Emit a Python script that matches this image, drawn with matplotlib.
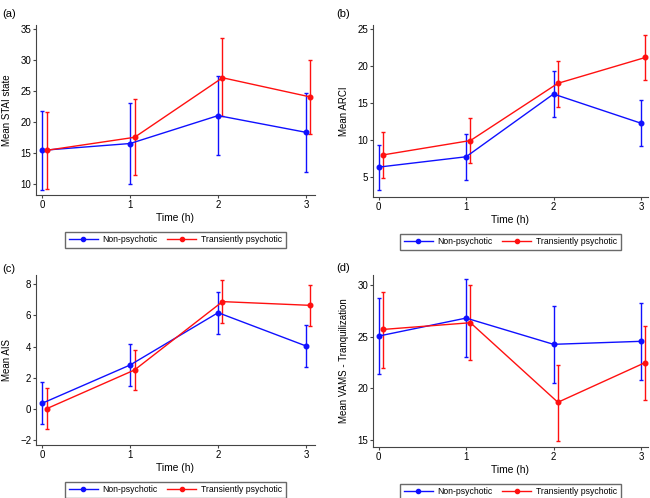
import numpy as np
import matplotlib
matplotlib.use("Agg")
from matplotlib import pyplot as plt
from matplotlib.lines import Line2D

plt.rcParams['font.family'] = ['Liberation Sans', 'DejaVu Sans']

# 時間 (h)
times = [0, 1, 2, 3]
offset = 0.05  # 赤系列のずらし

# (a) STAI state
a_non_mean = [15.4, 16.5, 21.0, 18.3]
a_non_lo = [9.0, 10.0, 14.7, 11.9]
a_non_hi = [21.7, 23.0, 27.4, 24.7]
a_tp_mean = [15.4, 17.5, 27.1, 24.0]
a_tp_lo = [9.1, 11.5, 20.9, 18.0]
a_tp_hi = [21.6, 23.6, 33.5, 30.0]

# (b) ARCI
b_non_mean = [6.35, 7.75, 16.25, 12.3]
b_non_lo = [3.2, 4.6, 13.1, 9.25]
b_non_hi = [9.4, 10.9, 19.35, 15.5]
b_tp_mean = [8.0, 9.95, 17.7, 21.2]
b_tp_lo = [4.9, 6.95, 14.5, 18.2]
b_tp_hi = [11.15, 12.95, 20.75, 24.2]

# (c) AIS
c_non_mean = [0.36, 2.82, 6.18, 4.04]
c_non_lo = [-1.0, 1.47, 4.79, 2.67]
c_non_hi = [1.7, 4.17, 7.49, 5.37]
c_tp_mean = [0.01, 2.5, 6.89, 6.65]
c_tp_lo = [-1.31, 1.19, 5.52, 5.35]
c_tp_hi = [1.36, 3.78, 8.3, 7.96]

# (d) VAMS - Tranquilization
d_non_mean = [25.06, 26.8, 24.26, 24.55]
d_non_lo = [21.4, 23.06, 20.55, 20.8]
d_non_hi = [28.7, 30.55, 27.94, 28.3]
d_tp_mean = [25.7, 26.35, 18.65, 22.5]
d_tp_lo = [22.0, 22.7, 14.9, 18.9]
d_tp_hi = [29.3, 30.0, 22.3, 26.0]

series_names = ['Non-psychotic', 'Transiently psychotic']
colors = ['#1010ff', '#ff1010']

panels = [
    ('(a)', 'Mean STAI state', (a_non_mean, a_non_lo, a_non_hi), (a_tp_mean, a_tp_lo, a_tp_hi),
     [10, 15, 20, 25, 30, 35], (8.2, 35.6), (-0.07, 3.1)),
    ('(b)', 'Mean ARCI', (b_non_mean, b_non_lo, b_non_hi), (b_tp_mean, b_tp_lo, b_tp_hi),
     [5, 10, 15, 20, 25], (2.3, 25.6), (-0.065, 3.08)),
    ('(c)', 'Mean AIS', (c_non_mean, c_non_lo, c_non_hi), (c_tp_mean, c_tp_lo, c_tp_hi),
     [-2, 0, 2, 4, 6, 8], (-2.32, 8.6), (-0.07, 3.1)),
    ('(d)', 'Mean VAMS - Tranquilization', (d_non_mean, d_non_lo, d_non_hi), (d_tp_mean, d_tp_lo, d_tp_hi),
     [15, 20, 25, 30], (14.35, 30.97), (-0.065, 3.08)),
]

# 各パネルの位置 (図の比率)
positions = [
    [0.0554, 0.6084, 0.429, 0.3414],
    [0.5738, 0.6044, 0.423, 0.3454],
    [0.0554, 0.1064, 0.429, 0.3414],
    [0.5738, 0.1030, 0.423, 0.3448],
]
label_pos = [(0.004, 0.972), (0.518, 0.972), (0.004, 0.46), (0.518, 0.462)]

fig = plt.figure(figsize=(6.5, 4.98), dpi=100)

for (tag, ylabel, non, tp, yticks, ylim, xlim), pos, lp in zip(panels, positions, label_pos):
    ax = fig.add_axes(pos)
    handles = []
    for k, (data, color, name) in enumerate(zip([non, tp], colors, series_names)):
        mean, lo, hi = [np.array(v) for v in data]
        x = np.array(times) + k * offset
        ax.errorbar(x, mean, yerr=[mean - lo, hi - mean], color=color, lw=1.0,
                    elinewidth=1.0, capsize=1.7, capthick=1.0,
                    marker='o', markersize=3.3)
        handles.append(Line2D([], [], color=color, lw=1.0, marker='o', markersize=3, label=name))
    ax.set_xlim(*xlim)
    ax.set_ylim(*ylim)
    ax.set_xticks(times)
    ax.set_yticks(yticks)
    ax.set_yticklabels([str(t).replace('-', '\u2212') for t in yticks])
    ax.spines['top'].set_visible(False)
    ax.spines['right'].set_visible(False)
    for s in ['left', 'bottom']:
        ax.spines[s].set_color('#444444')
        ax.spines[s].set_linewidth(0.8)
    ax.tick_params(labelsize=7, length=2.2, width=0.8, color='#444444', pad=1.3)
    ax.set_xlabel('Time (h)', fontsize=7.4, labelpad=2.5)
    ax.set_ylabel(ylabel, fontsize=7, labelpad=6)
    ax.legend(handles=handles, loc='upper center', bbox_to_anchor=(0.5, -0.19), ncol=2,
              fontsize=6.2, frameon=True, fancybox=False, edgecolor='#444444',
              handlelength=3.4, columnspacing=1.05, handletextpad=0.55,
              borderpad=0.4)
    fig.text(lp[0], lp[1], tag, fontsize=8, ha='left', va='center')

fig.savefig('out.png', dpi=100)
